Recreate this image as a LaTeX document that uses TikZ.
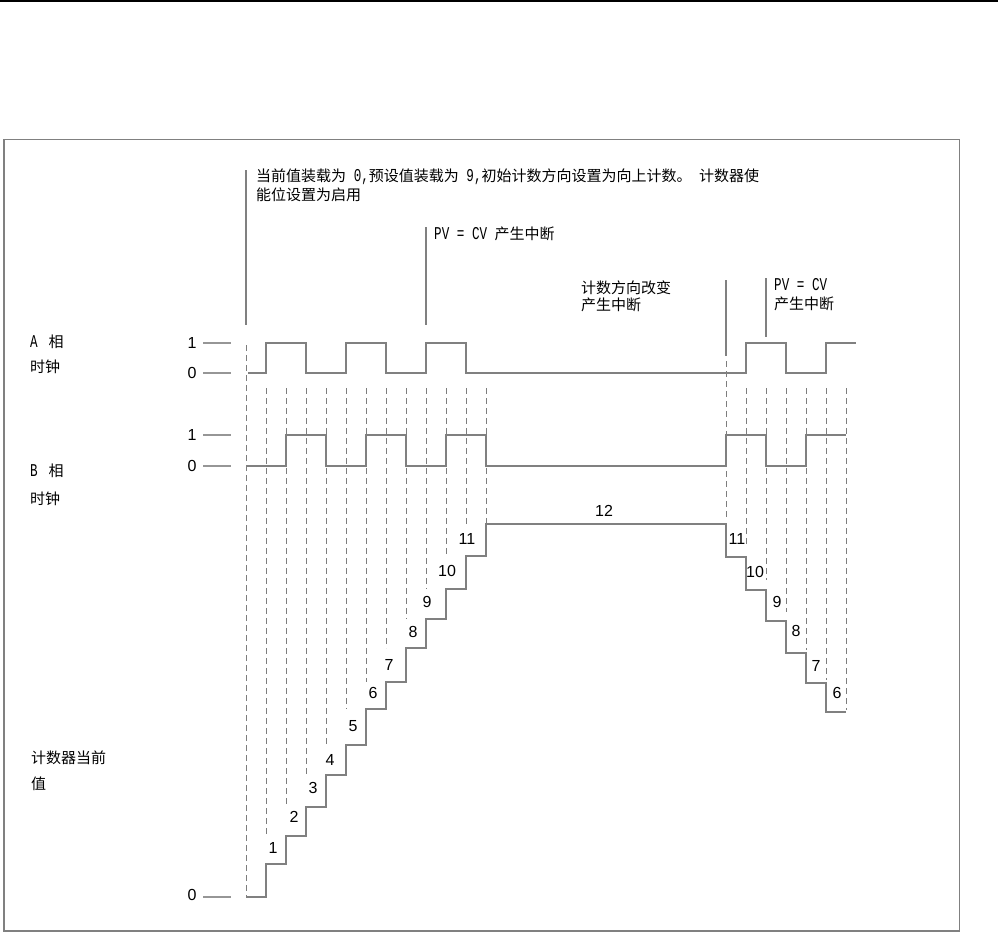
\documentclass[tikz,border=0pt]{standalone}
\usepackage{fontspec}
\setmainfont{Liberation Sans}
\newfontfamily\cjk{Noto Sans CJK SC}
\newfontfamily\monof[FakeStretch=0.7,Scale=1.2]{Liberation Mono}
\usepackage{tikz}
\usepackage{xcolor}
\definecolor{sigcol}{RGB}{128,128,128}
\definecolor{dashcol}{RGB}{125,125,125}
\definecolor{tickcol}{RGB}{150,150,150}

\begin{document}
\begin{tikzpicture}[x=1pt, y=-1pt,
    txt/.style={anchor=base west, inner sep=0pt, font=\cjk\fontsize{15}{20}\selectfont},
    digit/.style={inner sep=0pt, font=\fontsize{16}{19}\selectfont},
    signal/.style={sigcol, line width=2.8pt},
    guide/.style={dashcol, line width=1pt, dash pattern=on 6pt off 4pt},
    marker/.style={sigcol, line width=1.4pt},
    tickl/.style={tickcol, line width=1.3pt}]
  \useasboundingbox (0,0) rectangle (998,935);
  \draw[line width=2pt] (0,1) -- (998,1);
  \draw[sigcol, line width=1.5pt] (4,139.5) rectangle (959.5,931);

  \node[txt] (note1) at (256,181) {当前值装载为{\monof\ 0,}预设值装载为{\monof\ 9,}初始计数方向设置为向上计数。{\monof\ }计数器使};
  \node[txt] (note2) at (256,200) {能位设置为启用};
  \node[txt] (pvone) at (434,239) {{\monof PV = CV }产生中断};
  \node[txt] (dirone) at (581,293) {计数方向改变};
  \node[txt] (dirtwo) at (581,310) {产生中断};
  \node[txt] (pvtwo) at (774,290) {\monof PV = CV};
  \node[txt] (pvthree) at (774,309) {产生中断};

  \node[txt] (labA) at (30,347) {{\monof A } 相};   \node[txt] (clkA) at (30,372) {时钟};
  \node[txt] (labB) at (30,476) {{\monof B } 相};   \node[txt] (clkB) at (30,504) {时钟};
  \node[txt] (labC) at (31,763) {计数器当前};       \node[txt] (valC) at (31,789) {值};

  \node[digit] (Aone) at (192,343) {1};   \draw[tickl] (203,343) -- (231,343);
  \node[digit] (Azero) at (192,373) {0};  \draw[tickl] (203,373) -- (231,373);
  \node[digit] (Bone) at (192,435) {1};   \draw[tickl] (203,435) -- (231,435);
  \node[digit] (Bzero) at (192,466) {0};  \draw[tickl] (203,466) -- (231,466);
  \node[digit] (Czero) at (192,895) {0};  \draw[tickl] (203,897) -- (231,897);

  \draw[marker] (246,170) -- (246,325);
  \draw[marker] (426,227) -- (426,325);
  \draw[marker] (726,280) -- (726,356);
  \draw[marker] (766,278) -- (766,337);

  \draw[guide] (246,345) -- (246,897);
  \draw[guide] (266,388) -- (266,836);  \draw[guide] (286,388) -- (286,807);
  \draw[guide] (306,388) -- (306,775);  \draw[guide] (326,388) -- (326,745);
  \draw[guide] (346,388) -- (346,709);  \draw[guide] (366,388) -- (366,682);
  \draw[guide] (386,388) -- (386,648);  \draw[guide] (406,388) -- (406,619);
  \draw[guide] (426,388) -- (426,589);  \draw[guide] (446,388) -- (446,556);
  \draw[guide] (466,388) -- (466,524);  \draw[guide] (486,388) -- (486,524);
  \draw[guide] (726,361) -- (726,520);
  \draw[guide] (746,388) -- (746,545);  \draw[guide] (766,388) -- (766,580);
  \draw[guide] (786,388) -- (786,612);  \draw[guide] (806,388) -- (806,650);
  \draw[guide] (826,388) -- (826,680);  \draw[guide] (846,388) -- (846,710);

  \draw[signal] (248,373) -- (266,373) -- (266,343) -- (306,343) -- (306,373) -- (346,373)
    -- (346,343) -- (386,343) -- (386,373) -- (426,373) -- (426,343) -- (466,343) -- (466,373)
    -- (746,373) -- (746,343) -- (786,343) -- (786,373) -- (826,373) -- (826,343) -- (856,343);
  \draw[signal] (246,466) -- (286,466) -- (286,435) -- (326,435) -- (326,466) -- (366,466)
    -- (366,435) -- (406,435) -- (406,466) -- (446,466) -- (446,435) -- (486,435) -- (486,466)
    -- (726,466) -- (726,435) -- (766,435) -- (766,466) -- (806,466) -- (806,435) -- (846,435);
  \draw[signal] (246,897) -- (266,897) -- (266,864) -- (286,864) -- (286,836) -- (306,836)
    -- (306,807) -- (326,807) -- (326,775) -- (346,775) -- (346,745) -- (366,745) -- (366,709)
    -- (386,709) -- (386,682) -- (406,682) -- (406,648) -- (426,648) -- (426,619) -- (446,619)
    -- (446,589) -- (466,589) -- (466,556) -- (486,556) -- (486,524) -- (726,524) -- (726,557)
    -- (746,557) -- (746,590) -- (766,590) -- (766,621) -- (786,621) -- (786,653) -- (806,653)
    -- (806,683) -- (826,683) -- (826,712) -- (846,712);

  \node[digit] (up1) at (273,848) {1};   \node[digit] (up2) at (294,817) {2};
  \node[digit] (up3) at (313,788) {3};   \node[digit] (up4) at (330,760) {4};
  \node[digit] (up5) at (353,726) {5};   \node[digit] (up6) at (373,693) {6};
  \node[digit] (up7) at (389,665) {7};   \node[digit] (up8) at (413,632) {8};
  \node[digit] (up9) at (427,602) {9};   \node[digit] (up10) at (447,571) {10};
  \node[digit] (up11) at (467,539) {11};
  \node[digit] (top12) at (604,511) {12};
  \node[digit] (dn11) at (737,539) {11};  \node[digit] (dn10) at (755,572) {10};
  \node[digit] (dn9) at (777,602) {9};    \node[digit] (dn8) at (796,631) {8};
  \node[digit] (dn7) at (816,666) {7};    \node[digit] (dn6) at (837,693) {6};
\end{tikzpicture}
\end{document}
